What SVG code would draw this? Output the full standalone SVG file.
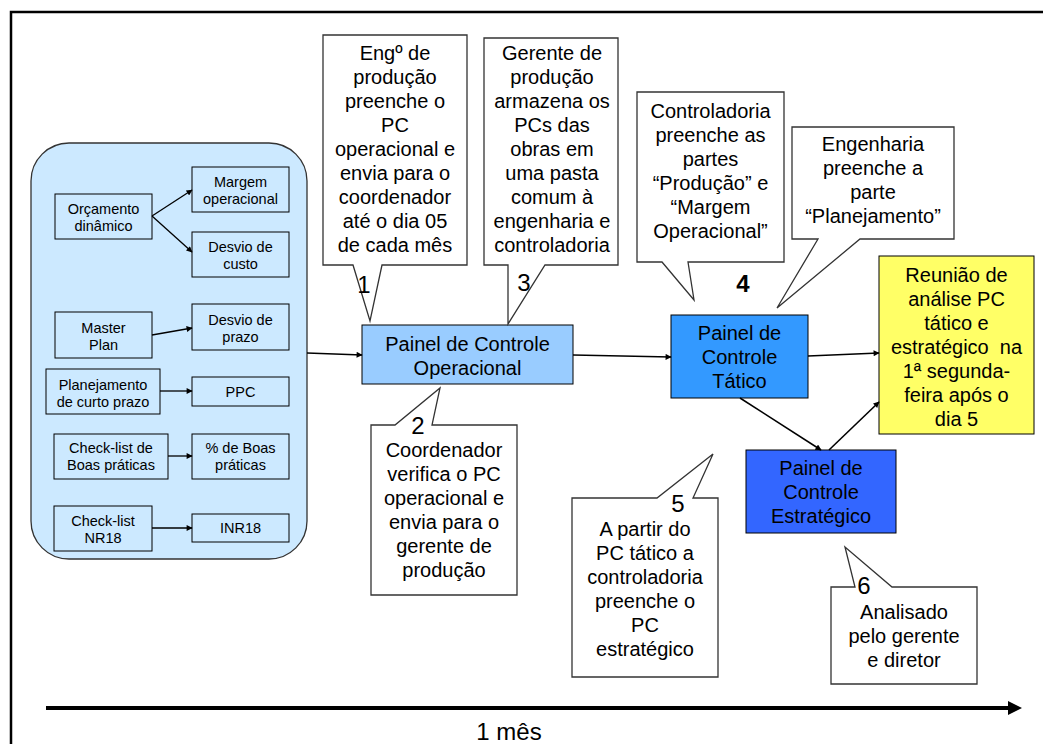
<svg xmlns="http://www.w3.org/2000/svg" width="1043" height="744" viewBox="0 0 1043 744">
  <defs>
    <style>
      text { font-family: "Liberation Sans", Arial, Helvetica, sans-serif; fill: #000; text-anchor: middle; }
      .sm { font-size: 14.5px; }
      .md { font-size: 20px; }
      .num { font-size: 24px; }
      .bold { font-weight: bold; }
      .ibox { fill: none; stroke: #000; stroke-width: 1; }
      .call { fill: #fff; stroke: #333; stroke-width: 1.3; stroke-linejoin: miter; }
      .node { stroke: #000; stroke-width: 1; }
      .con { fill: none; stroke: #000; stroke-width: 1.6; marker-end: url(#ah); }
      .con-s { fill: none; stroke: #000; stroke-width: 1.3; marker-end: url(#ah); }
    </style>
    <marker id="ah" viewBox="0 0 10 10" refX="9" refY="5" markerWidth="7" markerHeight="6" markerUnits="userSpaceOnUse" orient="auto">
      <path d="M0,0 L10,5 L0,10 Z" fill="#000"/>
    </marker>
  </defs>

  <rect x="0" y="0" width="1043" height="744" fill="#fff"/>
  <!-- outer frame -->
  <path d="M11,744 V12 H1043" fill="none" stroke="#000" stroke-width="2.5"/>

  <!-- indicator panel -->
  <g id="indicadores">
    <rect x="31" y="143" width="276" height="416" rx="38" ry="38" fill="#CCE9FF" stroke="#333" stroke-width="1.3"/>
    <g id="orcamento">
      <rect class="ibox" x="55" y="194" width="97" height="45"/>
      <text class="sm" x="103.5" y="214">Orçamento</text>
      <text class="sm" x="103.5" y="231">dinâmico</text>
    </g>
    <g id="margem">
      <rect class="ibox" x="192" y="167" width="97" height="45"/>
      <text class="sm" x="240.5" y="187">Margem</text>
      <text class="sm" x="240.5" y="204">operacional</text>
    </g>
    <g id="desvio-custo">
      <rect class="ibox" x="192" y="232" width="97" height="45"/>
      <text class="sm" x="240.5" y="252">Desvio de</text>
      <text class="sm" x="240.5" y="269">custo</text>
    </g>
    <g id="master-plan">
      <rect class="ibox" x="55" y="312" width="97" height="46"/>
      <text class="sm" x="103.5" y="333">Master</text>
      <text class="sm" x="103.5" y="350">Plan</text>
    </g>
    <g id="desvio-prazo">
      <rect class="ibox" x="192" y="304" width="97" height="46"/>
      <text class="sm" x="240.5" y="325">Desvio de</text>
      <text class="sm" x="240.5" y="342">prazo</text>
    </g>
    <g id="planejamento">
      <rect class="ibox" x="46" y="369" width="114" height="45"/>
      <text class="sm" x="103" y="390">Planejamento</text>
      <text class="sm" x="103" y="407">de curto prazo</text>
    </g>
    <g id="ppc">
      <rect class="ibox" x="192" y="377" width="97" height="29"/>
      <text class="sm" x="240.5" y="397">PPC</text>
    </g>
    <g id="checklist-boas">
      <rect class="ibox" x="54" y="434" width="114" height="45"/>
      <text class="sm" x="111" y="453">Check-list de</text>
      <text class="sm" x="111" y="470">Boas práticas</text>
    </g>
    <g id="pct-boas">
      <rect class="ibox" x="192" y="434" width="97" height="45"/>
      <text class="sm" x="240.5" y="453">% de Boas</text>
      <text class="sm" x="240.5" y="470">práticas</text>
    </g>
    <g id="checklist-nr18">
      <rect class="ibox" x="54" y="506" width="98" height="45"/>
      <text class="sm" x="103" y="526">Check-list</text>
      <text class="sm" x="103" y="543">NR18</text>
    </g>
    <g id="inr18">
      <rect class="ibox" x="192" y="514" width="97" height="28"/>
      <text class="sm" x="240.5" y="533">INR18</text>
    </g>
  </g>

  <!-- control panels -->
  <g id="pc-operacional">
    <rect class="node" x="362" y="325" width="211" height="59" fill="#99CCFF"/>
    <text class="md" x="467.5" y="351">Painel de Controle</text>
    <text class="md" x="467.5" y="375">Operacional</text>
  </g>
  <g id="pc-tatico">
    <rect class="node" x="671" y="315" width="137" height="83" fill="#3399FF"/>
    <text class="md" x="739.5" y="340">Painel de</text>
    <text class="md" x="739.5" y="364">Controle</text>
    <text class="md" x="739.5" y="388">Tático</text>
  </g>
  <g id="pc-estrategico">
    <rect class="node" x="746" y="450" width="150" height="83" fill="#3366FF"/>
    <text class="md" x="821" y="475">Painel de</text>
    <text class="md" x="821" y="499">Controle</text>
    <text class="md" x="821" y="523">Estratégico</text>
  </g>
  <g id="reuniao">
    <rect class="node" x="879" y="256" width="155" height="178" fill="#FFFF66"/>
    <text class="md" x="956.5" y="282">Reunião de</text>
    <text class="md" x="956.5" y="306">análise PC</text>
    <text class="md" x="956.5" y="330">tático e</text>
    <text class="md" x="956.5" y="354" xml:space="preserve">estratégico  na</text>
    <text class="md" x="956.5" y="378">1ª segunda-</text>
    <text class="md" x="956.5" y="402">feira após o</text>
    <text class="md" x="956.5" y="426">dia 5</text>
  </g>

  <!-- connectors -->
  <g id="connectors">
    <line class="con-s" x1="152" y1="216" x2="192" y2="190"/>
    <line class="con-s" x1="152" y1="216" x2="192" y2="252"/>
    <line class="con-s" x1="152" y1="335" x2="192" y2="328"/>
    <line class="con-s" x1="160" y1="391" x2="192" y2="391"/>
    <line class="con-s" x1="168" y1="456" x2="192" y2="456"/>
    <line class="con-s" x1="152" y1="528" x2="192" y2="528"/>
    <line class="con" x1="307" y1="353" x2="362" y2="355"/>
    <line class="con" x1="573" y1="355" x2="671" y2="357"/>
    <line class="con" x1="808" y1="356" x2="879" y2="353"/>
    <line class="con" x1="740" y1="398" x2="821" y2="450"/>
    <line class="con" x1="829" y1="450" x2="879" y2="402"/>
  </g>

  <!-- step callouts -->
  <g id="passo-1">
    <path class="call" d="M323,35 H467 V265 H382 L370,321 L353,265 H323 Z"/>
    <text class="md" x="395" y="60">Engº de</text>
    <text class="md" x="395" y="84">produção</text>
    <text class="md" x="395" y="108">preenche o</text>
    <text class="md" x="395" y="132">PC</text>
    <text class="md" x="395" y="156">operacional e</text>
    <text class="md" x="395" y="180">envia para o</text>
    <text class="md" x="395" y="204">coordenador</text>
    <text class="md" x="395" y="228">até o dia 05</text>
    <text class="md" x="395" y="252">de cada mês</text>
    <text class="num" x="364" y="293">1</text>
  </g>
  <g id="passo-3">
    <path class="call" d="M484,38 H618 V265 H545 L508,324 L508,265 H484 Z"/>
    <text class="md" x="552" y="60">Gerente de</text>
    <text class="md" x="552" y="84">produção</text>
    <text class="md" x="552" y="108">armazena os</text>
    <text class="md" x="552" y="132">PCs das</text>
    <text class="md" x="552" y="156">obras em</text>
    <text class="md" x="552" y="180">uma pasta</text>
    <text class="md" x="552" y="204">comum à</text>
    <text class="md" x="552" y="228">engenharia e</text>
    <text class="md" x="552" y="252">controladoria</text>
    <text class="num" x="524" y="291">3</text>
  </g>
  <g id="passo-4a">
    <path class="call" d="M637,92 H784 V262 H688 L694,300 L662,262 H637 Z"/>
    <text class="md" x="710.5" y="118">Controladoria</text>
    <text class="md" x="710.5" y="142">preenche as</text>
    <text class="md" x="710.5" y="166">partes</text>
    <text class="md" x="710.5" y="190">“Produção” e</text>
    <text class="md" x="710.5" y="214">“Margem</text>
    <text class="md" x="710.5" y="238">Operacional”</text>
  </g>
  <g id="passo-4b">
    <path class="call" d="M792,127 H954 V239 H860 L777,308 L818,239 H792 Z"/>
    <text class="md" x="873" y="151">Engenharia</text>
    <text class="md" x="873" y="175">preenche a</text>
    <text class="md" x="873" y="199">parte</text>
    <text class="md" x="873" y="223">“Planejamento”</text>
  </g>
  <text class="num bold" x="743" y="292">4</text>
  <g id="passo-2">
    <path class="call" d="M371,425 H395 L440,388 L432,425 H517 V595 H371 Z"/>
    <text class="num" x="418" y="434">2</text>
    <text class="md" x="444" y="457">Coordenador</text>
    <text class="md" x="444" y="481">verifica o PC</text>
    <text class="md" x="444" y="505">operacional e</text>
    <text class="md" x="444" y="529">envia para o</text>
    <text class="md" x="444" y="553">gerente de</text>
    <text class="md" x="444" y="577">produção</text>
  </g>
  <g id="passo-5">
    <path class="call" d="M572,498 H657 L713,454 L693,498 H718 V677 H572 Z"/>
    <text class="num" x="678" y="512">5</text>
    <text class="md" x="645" y="536">A partir do</text>
    <text class="md" x="645" y="560">PC tático a</text>
    <text class="md" x="645" y="584">controladoria</text>
    <text class="md" x="645" y="608">preenche o</text>
    <text class="md" x="645" y="632">PC</text>
    <text class="md" x="645" y="656">estratégico</text>
  </g>
  <g id="passo-6">
    <path class="call" d="M831,587 H855 L845,547 L892,587 H977 V684 H831 Z"/>
    <text class="num" x="864" y="594">6</text>
    <text class="md" x="904" y="619">Analisado</text>
    <text class="md" x="904" y="643">pelo gerente</text>
    <text class="md" x="904" y="667">e diretor</text>
  </g>

  <!-- time axis -->
  <g id="linha-tempo">
    <line x1="46" y1="708" x2="1012" y2="708" stroke="#000" stroke-width="4"/>
    <path d="M1008,701 L1022,708 L1008,715 Z" fill="#000"/>
    <text x="509" y="740" style="font-size:24px">1 mês</text>
  </g>
</svg>
